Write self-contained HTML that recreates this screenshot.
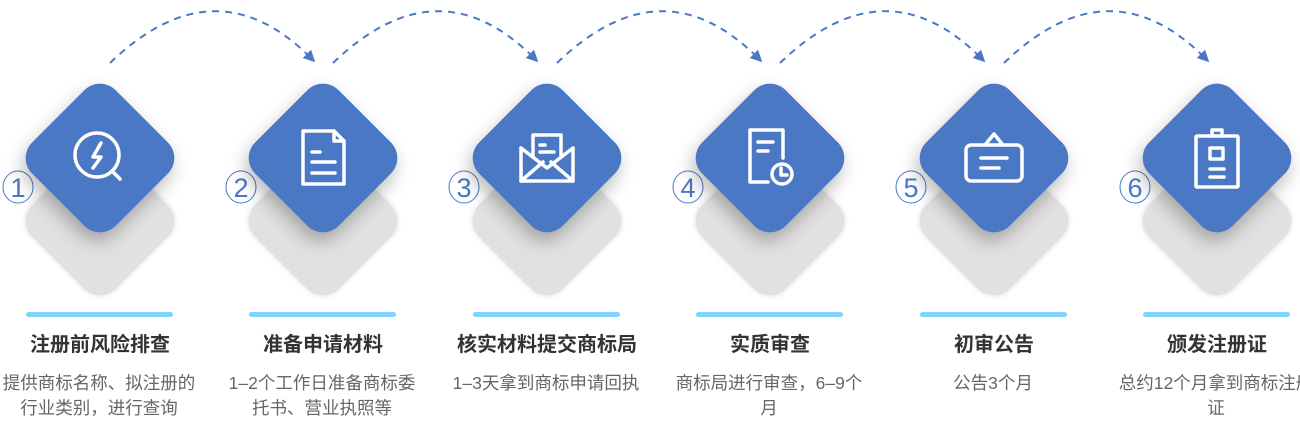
<!DOCTYPE html>
<html><head><meta charset="utf-8"><style>
body{margin:0;width:1300px;height:426px;background:#fff;position:relative;overflow:hidden;font-family:"Liberation Sans","Noto Sans CJK SC",sans-serif}
.col{position:absolute;top:0;width:224px;height:426px}
.gd,.bd{position:absolute;width:118px;height:118px;border-radius:22px;transform:rotate(45deg)}
.gd{left:53px;top:162px;background:#e1e1e1;box-shadow:0 0 6px rgba(0,0,0,.14)}
.bd{left:53px;top:99px;background:#4a78c4;box-shadow:4px 8px 18px rgba(0,0,0,.28)}
.ic{position:absolute;left:72px;top:118px;width:80px;height:80px}
.bar{position:absolute;left:38px;top:312px;width:147px;height:5px;border-radius:3px;background:#80d4fb}
.t{position:absolute;left:-20px;width:264px;top:328px;text-align:center;font-size:20px;font-weight:bold;color:#333}
.d{position:absolute;left:12px;width:198px;top:371px;text-align:center;font-size:17.5px;line-height:25px;color:#666}
</style></head><body>
<svg width="1300" height="426" style="position:absolute;left:0;top:0">
<defs><marker id="a" markerWidth="12" markerHeight="12" refX="6" refY="6" orient="auto" markerUnits="userSpaceOnUse" viewBox="0 0 12 12"><path d="M0,0 L12,6 L0,12 z" fill="#4a78c4"/></marker></defs>
<g fill="none" stroke="#4a78c4" stroke-width="2" stroke-dasharray="7,6">
<path d="M110,63 Q215,-38 311,58" marker-end="url(#a)"/>
<path d="M333,63 Q438,-38 534,58" marker-end="url(#a)"/>
<path d="M557,63 Q662,-38 758,58" marker-end="url(#a)"/>
<path d="M780,63 Q885,-38 981,58" marker-end="url(#a)"/>
<path d="M1004,63 Q1109,-38 1205,58" marker-end="url(#a)"/>
</g>
<g fill="none" stroke="#4a78c4" stroke-width="1" font-family="Liberation Sans" font-size="27" text-anchor="middle">
<ellipse cx="18" cy="187" rx="15" ry="16"/><ellipse cx="241" cy="187" rx="15" ry="16"/><ellipse cx="464" cy="187" rx="15" ry="16"/><ellipse cx="688" cy="187" rx="15" ry="16"/><ellipse cx="911" cy="187" rx="15" ry="16"/><ellipse cx="1135" cy="187" rx="15" ry="16"/>
<g fill="#4a78c4" stroke="none"><text x="18" y="197">1</text><text x="241" y="197">2</text><text x="464" y="197">3</text><text x="688" y="197">4</text><text x="911" y="197">5</text><text x="1135" y="197">6</text></g>
</g>
</svg>

<div class="col" style="left:-12px"><div class="gd"></div><div class="bd"></div>
<svg class="ic" viewBox="0 0 80 80" fill="none" stroke="#fff" stroke-width="3.5" stroke-linecap="round" stroke-linejoin="round"><circle cx="37" cy="37" r="22"/><path d="M52 53 L60 61"/><path d="M41 25 L33 39 L41 39 L33 50"/></svg>
<div class="bar"></div><div class="t">注册前风险排查</div><div class="d">提供商标名称、拟注册的行业类别，进行查询</div></div>

<div class="col" style="left:211px"><div class="gd"></div><div class="bd"></div>
<svg class="ic" viewBox="0 0 80 80" fill="none" stroke="#fff" stroke-width="3.5" stroke-linejoin="round" stroke-linecap="round"><path d="M20 13 H51 L61 23 V66 H20 Z"/><path d="M51 13 V23 H61"/><path d="M29 34 H37 M29 44 H52 M29 55 H52"/></svg>
<div class="bar"></div><div class="t">准备申请材料</div><div class="d">1–2个工作日准备商标委托书、营业执照等</div></div>

<div class="col" style="left:435px"><div class="gd"></div><div class="bd"></div>
<svg class="ic" viewBox="0 0 80 80" fill="none" stroke="#fff" stroke-width="3.5" stroke-linejoin="round" stroke-linecap="round"><path d="M14 30 V63 H66 V30"/><path d="M14 63 L36 44 M66 63 L44 44"/><path d="M26 38 V17 H54 V38"/><path d="M14 30 L40 50 L66 30"/><path d="M33 27 H38 M33 34 H47"/></svg>
<div class="bar"></div><div class="t">核实材料提交商标局</div><div class="d">1–3天拿到商标申请回执</div></div>

<div class="col" style="left:658px"><div class="gd"></div><div class="bd"></div>
<svg class="ic" viewBox="0 0 80 80" fill="none" stroke="#fff" stroke-width="3.5" stroke-linejoin="round" stroke-linecap="round"><path d="M38 64 H20 V12 H53 V40"/><path d="M28 24 H43 M28 33 H38"/><circle cx="52" cy="56" r="10"/><path d="M51 50 V57 H57"/></svg>
<div class="bar"></div><div class="t">实质审查</div><div class="d">商标局进行审查，6–9个月</div></div>

<div class="col" style="left:882px"><div class="gd"></div><div class="bd"></div>
<svg class="ic" viewBox="0 0 80 80" fill="none" stroke="#fff" stroke-width="3.5" stroke-linejoin="round" stroke-linecap="round"><rect x="12" y="27" width="56" height="36" rx="5"/><path d="M31 27 L40 16 L49 27"/><path d="M27 40 H53 M27 50 H45"/></svg>
<div class="bar"></div><div class="t">初审公告</div><div class="d">公告3个月</div></div>

<div class="col" style="left:1105px"><div class="gd"></div><div class="bd"></div>
<svg class="ic" viewBox="0 0 80 80" fill="none" stroke="#fff" stroke-width="3.5" stroke-linejoin="round" stroke-linecap="round"><rect x="19" y="18" width="42" height="51" rx="1"/><path d="M35 18 V12 H45 V18"/><rect x="33" y="30" width="13" height="11"/><path d="M33 51 H47 M33 59 H47"/></svg>
<div class="bar"></div><div class="t">颁发注册证</div><div class="d">总约12个月拿到商标注册证</div></div>
</body></html>
